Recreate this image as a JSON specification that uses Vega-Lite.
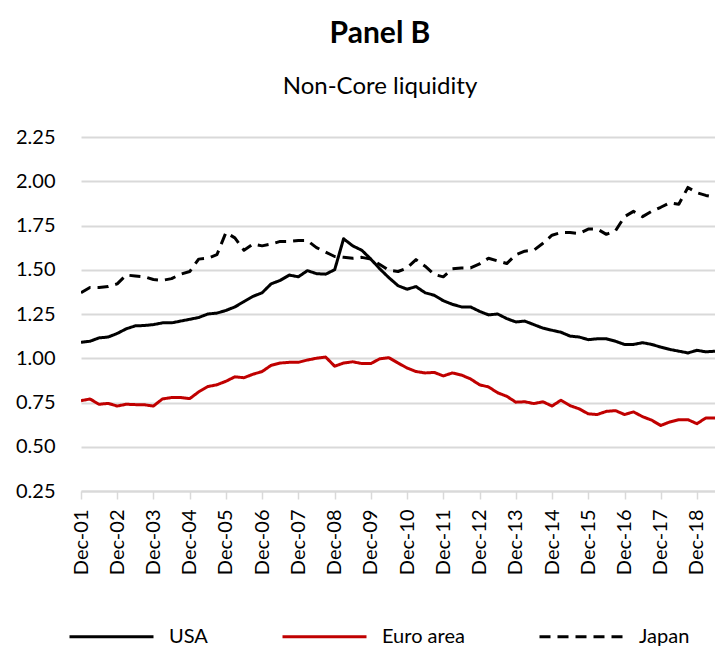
{
  "$schema": "https://vega.github.io/schema/vega-lite/v6.json",
  "autosize": {"type": "none"},
  "width": 634,
  "height": 354,
  "padding": {"left": 81, "top": 137, "right": 0, "bottom": 158},
  "background": "white",
  "config": {"view": {"stroke": null}, "font": "Lato"},
  "title": {
    "text": "Panel B",
    "subtitle": "Non-Core liquidity",
    "font": "Lato",
    "fontSize": 30,
    "fontWeight": "bold",
    "color": "#000000",
    "subtitleFont": "Lato",
    "subtitleFontSize": 24,
    "subtitleColor": "#000000",
    "subtitlePadding": 21,
    "anchor": "middle",
    "frame": "group",
    "baseline": "alphabetic",
    "dx": -18,
    "offset": 4
  },
  "data": {
    "values": [
      {"date": "2001-12-01", "series": "USA", "value": 1.09},
      {"date": "2002-03-01", "series": "USA", "value": 1.096},
      {"date": "2002-06-01", "series": "USA", "value": 1.115},
      {"date": "2002-09-01", "series": "USA", "value": 1.12},
      {"date": "2002-12-01", "series": "USA", "value": 1.14},
      {"date": "2003-03-01", "series": "USA", "value": 1.166},
      {"date": "2003-06-01", "series": "USA", "value": 1.183},
      {"date": "2003-09-01", "series": "USA", "value": 1.185},
      {"date": "2003-12-01", "series": "USA", "value": 1.19},
      {"date": "2004-03-01", "series": "USA", "value": 1.2},
      {"date": "2004-06-01", "series": "USA", "value": 1.2},
      {"date": "2004-09-01", "series": "USA", "value": 1.21},
      {"date": "2004-12-01", "series": "USA", "value": 1.22},
      {"date": "2005-03-01", "series": "USA", "value": 1.23},
      {"date": "2005-06-01", "series": "USA", "value": 1.25},
      {"date": "2005-09-01", "series": "USA", "value": 1.255},
      {"date": "2005-12-01", "series": "USA", "value": 1.27},
      {"date": "2006-03-01", "series": "USA", "value": 1.29},
      {"date": "2006-06-01", "series": "USA", "value": 1.32},
      {"date": "2006-09-01", "series": "USA", "value": 1.35},
      {"date": "2006-12-01", "series": "USA", "value": 1.37},
      {"date": "2007-03-01", "series": "USA", "value": 1.42},
      {"date": "2007-06-01", "series": "USA", "value": 1.44},
      {"date": "2007-09-01", "series": "USA", "value": 1.47},
      {"date": "2007-12-01", "series": "USA", "value": 1.46},
      {"date": "2008-03-01", "series": "USA", "value": 1.495},
      {"date": "2008-06-01", "series": "USA", "value": 1.478},
      {"date": "2008-09-01", "series": "USA", "value": 1.475},
      {"date": "2008-12-01", "series": "USA", "value": 1.5},
      {"date": "2009-03-01", "series": "USA", "value": 1.675},
      {"date": "2009-06-01", "series": "USA", "value": 1.635},
      {"date": "2009-09-01", "series": "USA", "value": 1.61},
      {"date": "2009-12-01", "series": "USA", "value": 1.56},
      {"date": "2010-03-01", "series": "USA", "value": 1.505},
      {"date": "2010-06-01", "series": "USA", "value": 1.455},
      {"date": "2010-09-01", "series": "USA", "value": 1.41},
      {"date": "2010-12-01", "series": "USA", "value": 1.39},
      {"date": "2011-03-01", "series": "USA", "value": 1.405},
      {"date": "2011-06-01", "series": "USA", "value": 1.37},
      {"date": "2011-09-01", "series": "USA", "value": 1.356},
      {"date": "2011-12-01", "series": "USA", "value": 1.325},
      {"date": "2012-03-01", "series": "USA", "value": 1.305},
      {"date": "2012-06-01", "series": "USA", "value": 1.29},
      {"date": "2012-09-01", "series": "USA", "value": 1.29},
      {"date": "2012-12-01", "series": "USA", "value": 1.265},
      {"date": "2013-03-01", "series": "USA", "value": 1.245},
      {"date": "2013-06-01", "series": "USA", "value": 1.25},
      {"date": "2013-09-01", "series": "USA", "value": 1.224},
      {"date": "2013-12-01", "series": "USA", "value": 1.205},
      {"date": "2014-03-01", "series": "USA", "value": 1.21},
      {"date": "2014-06-01", "series": "USA", "value": 1.19},
      {"date": "2014-09-01", "series": "USA", "value": 1.17},
      {"date": "2014-12-01", "series": "USA", "value": 1.158},
      {"date": "2015-03-01", "series": "USA", "value": 1.147},
      {"date": "2015-06-01", "series": "USA", "value": 1.125},
      {"date": "2015-09-01", "series": "USA", "value": 1.12},
      {"date": "2015-12-01", "series": "USA", "value": 1.105},
      {"date": "2016-03-01", "series": "USA", "value": 1.11},
      {"date": "2016-06-01", "series": "USA", "value": 1.11},
      {"date": "2016-09-01", "series": "USA", "value": 1.096},
      {"date": "2016-12-01", "series": "USA", "value": 1.078},
      {"date": "2017-03-01", "series": "USA", "value": 1.078},
      {"date": "2017-06-01", "series": "USA", "value": 1.088},
      {"date": "2017-09-01", "series": "USA", "value": 1.078},
      {"date": "2017-12-01", "series": "USA", "value": 1.063},
      {"date": "2018-03-01", "series": "USA", "value": 1.05},
      {"date": "2018-06-01", "series": "USA", "value": 1.04},
      {"date": "2018-09-01", "series": "USA", "value": 1.03},
      {"date": "2018-12-01", "series": "USA", "value": 1.045},
      {"date": "2019-03-01", "series": "USA", "value": 1.036},
      {"date": "2019-06-01", "series": "USA", "value": 1.04},

      {"date": "2001-12-01", "series": "Euro area", "value": 0.76},
      {"date": "2002-03-01", "series": "Euro area", "value": 0.77},
      {"date": "2002-06-01", "series": "Euro area", "value": 0.74},
      {"date": "2002-09-01", "series": "Euro area", "value": 0.745},
      {"date": "2002-12-01", "series": "Euro area", "value": 0.73},
      {"date": "2003-03-01", "series": "Euro area", "value": 0.74},
      {"date": "2003-06-01", "series": "Euro area", "value": 0.738},
      {"date": "2003-09-01", "series": "Euro area", "value": 0.737},
      {"date": "2003-12-01", "series": "Euro area", "value": 0.73},
      {"date": "2004-03-01", "series": "Euro area", "value": 0.77},
      {"date": "2004-06-01", "series": "Euro area", "value": 0.778},
      {"date": "2004-09-01", "series": "Euro area", "value": 0.778},
      {"date": "2004-12-01", "series": "Euro area", "value": 0.772},
      {"date": "2005-03-01", "series": "Euro area", "value": 0.81},
      {"date": "2005-06-01", "series": "Euro area", "value": 0.84},
      {"date": "2005-09-01", "series": "Euro area", "value": 0.85},
      {"date": "2005-12-01", "series": "Euro area", "value": 0.87},
      {"date": "2006-03-01", "series": "Euro area", "value": 0.895},
      {"date": "2006-06-01", "series": "Euro area", "value": 0.89},
      {"date": "2006-09-01", "series": "Euro area", "value": 0.91},
      {"date": "2006-12-01", "series": "Euro area", "value": 0.925},
      {"date": "2007-03-01", "series": "Euro area", "value": 0.96},
      {"date": "2007-06-01", "series": "Euro area", "value": 0.973},
      {"date": "2007-09-01", "series": "Euro area", "value": 0.977},
      {"date": "2007-12-01", "series": "Euro area", "value": 0.977},
      {"date": "2008-03-01", "series": "Euro area", "value": 0.99},
      {"date": "2008-06-01", "series": "Euro area", "value": 1.0},
      {"date": "2008-09-01", "series": "Euro area", "value": 1.007},
      {"date": "2008-12-01", "series": "Euro area", "value": 0.955},
      {"date": "2009-03-01", "series": "Euro area", "value": 0.973},
      {"date": "2009-06-01", "series": "Euro area", "value": 0.98},
      {"date": "2009-09-01", "series": "Euro area", "value": 0.97},
      {"date": "2009-12-01", "series": "Euro area", "value": 0.97},
      {"date": "2010-03-01", "series": "Euro area", "value": 0.997},
      {"date": "2010-06-01", "series": "Euro area", "value": 1.003},
      {"date": "2010-09-01", "series": "Euro area", "value": 0.973},
      {"date": "2010-12-01", "series": "Euro area", "value": 0.945},
      {"date": "2011-03-01", "series": "Euro area", "value": 0.925},
      {"date": "2011-06-01", "series": "Euro area", "value": 0.917},
      {"date": "2011-09-01", "series": "Euro area", "value": 0.92},
      {"date": "2011-12-01", "series": "Euro area", "value": 0.9},
      {"date": "2012-03-01", "series": "Euro area", "value": 0.917},
      {"date": "2012-06-01", "series": "Euro area", "value": 0.905},
      {"date": "2012-09-01", "series": "Euro area", "value": 0.883},
      {"date": "2012-12-01", "series": "Euro area", "value": 0.85},
      {"date": "2013-03-01", "series": "Euro area", "value": 0.838},
      {"date": "2013-06-01", "series": "Euro area", "value": 0.805},
      {"date": "2013-09-01", "series": "Euro area", "value": 0.785},
      {"date": "2013-12-01", "series": "Euro area", "value": 0.752},
      {"date": "2014-03-01", "series": "Euro area", "value": 0.754},
      {"date": "2014-06-01", "series": "Euro area", "value": 0.744},
      {"date": "2014-09-01", "series": "Euro area", "value": 0.754},
      {"date": "2014-12-01", "series": "Euro area", "value": 0.73},
      {"date": "2015-03-01", "series": "Euro area", "value": 0.763},
      {"date": "2015-06-01", "series": "Euro area", "value": 0.732},
      {"date": "2015-09-01", "series": "Euro area", "value": 0.714},
      {"date": "2015-12-01", "series": "Euro area", "value": 0.686},
      {"date": "2016-03-01", "series": "Euro area", "value": 0.682},
      {"date": "2016-06-01", "series": "Euro area", "value": 0.7},
      {"date": "2016-09-01", "series": "Euro area", "value": 0.704},
      {"date": "2016-12-01", "series": "Euro area", "value": 0.682},
      {"date": "2017-03-01", "series": "Euro area", "value": 0.697},
      {"date": "2017-06-01", "series": "Euro area", "value": 0.67},
      {"date": "2017-09-01", "series": "Euro area", "value": 0.65},
      {"date": "2017-12-01", "series": "Euro area", "value": 0.62},
      {"date": "2018-03-01", "series": "Euro area", "value": 0.64},
      {"date": "2018-06-01", "series": "Euro area", "value": 0.653},
      {"date": "2018-09-01", "series": "Euro area", "value": 0.653},
      {"date": "2018-12-01", "series": "Euro area", "value": 0.63},
      {"date": "2019-03-01", "series": "Euro area", "value": 0.663},
      {"date": "2019-06-01", "series": "Euro area", "value": 0.663},

      {"date": "2001-12-01", "series": "Japan", "value": 1.37},
      {"date": "2002-03-01", "series": "Japan", "value": 1.4},
      {"date": "2002-06-01", "series": "Japan", "value": 1.4},
      {"date": "2002-09-01", "series": "Japan", "value": 1.405},
      {"date": "2002-12-01", "series": "Japan", "value": 1.42},
      {"date": "2003-03-01", "series": "Japan", "value": 1.47},
      {"date": "2003-06-01", "series": "Japan", "value": 1.465},
      {"date": "2003-09-01", "series": "Japan", "value": 1.46},
      {"date": "2003-12-01", "series": "Japan", "value": 1.445},
      {"date": "2004-03-01", "series": "Japan", "value": 1.44},
      {"date": "2004-06-01", "series": "Japan", "value": 1.45},
      {"date": "2004-09-01", "series": "Japan", "value": 1.475},
      {"date": "2004-12-01", "series": "Japan", "value": 1.49},
      {"date": "2005-03-01", "series": "Japan", "value": 1.56},
      {"date": "2005-06-01", "series": "Japan", "value": 1.565},
      {"date": "2005-09-01", "series": "Japan", "value": 1.585},
      {"date": "2005-12-01", "series": "Japan", "value": 1.71},
      {"date": "2006-03-01", "series": "Japan", "value": 1.68},
      {"date": "2006-06-01", "series": "Japan", "value": 1.61},
      {"date": "2006-09-01", "series": "Japan", "value": 1.645},
      {"date": "2006-12-01", "series": "Japan", "value": 1.635},
      {"date": "2007-03-01", "series": "Japan", "value": 1.645},
      {"date": "2007-06-01", "series": "Japan", "value": 1.66},
      {"date": "2007-09-01", "series": "Japan", "value": 1.66},
      {"date": "2007-12-01", "series": "Japan", "value": 1.665},
      {"date": "2008-03-01", "series": "Japan", "value": 1.665},
      {"date": "2008-06-01", "series": "Japan", "value": 1.625},
      {"date": "2008-09-01", "series": "Japan", "value": 1.6},
      {"date": "2008-12-01", "series": "Japan", "value": 1.575},
      {"date": "2009-03-01", "series": "Japan", "value": 1.57},
      {"date": "2009-06-01", "series": "Japan", "value": 1.565},
      {"date": "2009-09-01", "series": "Japan", "value": 1.57},
      {"date": "2009-12-01", "series": "Japan", "value": 1.56},
      {"date": "2010-03-01", "series": "Japan", "value": 1.53},
      {"date": "2010-06-01", "series": "Japan", "value": 1.497},
      {"date": "2010-09-01", "series": "Japan", "value": 1.49},
      {"date": "2010-12-01", "series": "Japan", "value": 1.51},
      {"date": "2011-03-01", "series": "Japan", "value": 1.557},
      {"date": "2011-06-01", "series": "Japan", "value": 1.52},
      {"date": "2011-09-01", "series": "Japan", "value": 1.473},
      {"date": "2011-12-01", "series": "Japan", "value": 1.46},
      {"date": "2012-03-01", "series": "Japan", "value": 1.505},
      {"date": "2012-06-01", "series": "Japan", "value": 1.51},
      {"date": "2012-09-01", "series": "Japan", "value": 1.51},
      {"date": "2012-12-01", "series": "Japan", "value": 1.533},
      {"date": "2013-03-01", "series": "Japan", "value": 1.565},
      {"date": "2013-06-01", "series": "Japan", "value": 1.55},
      {"date": "2013-09-01", "series": "Japan", "value": 1.535},
      {"date": "2013-12-01", "series": "Japan", "value": 1.585},
      {"date": "2014-03-01", "series": "Japan", "value": 1.605},
      {"date": "2014-06-01", "series": "Japan", "value": 1.61},
      {"date": "2014-09-01", "series": "Japan", "value": 1.65},
      {"date": "2014-12-01", "series": "Japan", "value": 1.695},
      {"date": "2015-03-01", "series": "Japan", "value": 1.71},
      {"date": "2015-06-01", "series": "Japan", "value": 1.71},
      {"date": "2015-09-01", "series": "Japan", "value": 1.705},
      {"date": "2015-12-01", "series": "Japan", "value": 1.73},
      {"date": "2016-03-01", "series": "Japan", "value": 1.73},
      {"date": "2016-06-01", "series": "Japan", "value": 1.7},
      {"date": "2016-09-01", "series": "Japan", "value": 1.72},
      {"date": "2016-12-01", "series": "Japan", "value": 1.8},
      {"date": "2017-03-01", "series": "Japan", "value": 1.83},
      {"date": "2017-06-01", "series": "Japan", "value": 1.8},
      {"date": "2017-09-01", "series": "Japan", "value": 1.83},
      {"date": "2017-12-01", "series": "Japan", "value": 1.853},
      {"date": "2018-03-01", "series": "Japan", "value": 1.878},
      {"date": "2018-06-01", "series": "Japan", "value": 1.87},
      {"date": "2018-09-01", "series": "Japan", "value": 1.965},
      {"date": "2018-12-01", "series": "Japan", "value": 1.935},
      {"date": "2019-03-01", "series": "Japan", "value": 1.92},
      {"date": "2019-06-01", "series": "Japan", "value": 1.91}
    ]
  },
  "mark": {"type": "line", "strokeWidth": 3, "strokeJoin": "round", "clip": true},
  "encoding": {
    "x": {
      "field": "date",
      "type": "temporal",
      "scale": {
        "type": "utc",
        "domain": [
          {"year": 2001, "month": 12, "date": 1, "utc": true},
          {"year": 2019, "month": 6, "date": 1, "utc": true}
        ]
      },
      "axis": {
        "title": null,
        "values": [
          {"year": 2001, "month": 12, "date": 1, "utc": true},
          {"year": 2002, "month": 12, "date": 1, "utc": true},
          {"year": 2003, "month": 12, "date": 1, "utc": true},
          {"year": 2004, "month": 12, "date": 1, "utc": true},
          {"year": 2005, "month": 12, "date": 1, "utc": true},
          {"year": 2006, "month": 12, "date": 1, "utc": true},
          {"year": 2007, "month": 12, "date": 1, "utc": true},
          {"year": 2008, "month": 12, "date": 1, "utc": true},
          {"year": 2009, "month": 12, "date": 1, "utc": true},
          {"year": 2010, "month": 12, "date": 1, "utc": true},
          {"year": 2011, "month": 12, "date": 1, "utc": true},
          {"year": 2012, "month": 12, "date": 1, "utc": true},
          {"year": 2013, "month": 12, "date": 1, "utc": true},
          {"year": 2014, "month": 12, "date": 1, "utc": true},
          {"year": 2015, "month": 12, "date": 1, "utc": true},
          {"year": 2016, "month": 12, "date": 1, "utc": true},
          {"year": 2017, "month": 12, "date": 1, "utc": true},
          {"year": 2018, "month": 12, "date": 1, "utc": true}
        ],
        "labelExpr": "utcFormat(datum.value, '%b-%y')",
        "labelAngle": 270,
        "labelAlign": "right",
        "labelBaseline": "middle",
        "labelFont": "Lato",
        "labelFontSize": 20,
        "labelColor": "#000000",
        "labelPadding": 10,
        "labelOverlap": false,
        "labelFlush": false,
        "grid": false,
        "domain": true,
        "domainColor": "#d9d9d9",
        "domainWidth": 2,
        "ticks": true,
        "tickColor": "#d9d9d9",
        "tickWidth": 1.5,
        "tickSize": 8
      }
    },
    "y": {
      "field": "value",
      "type": "quantitative",
      "scale": {"domain": [0.25, 2.25], "nice": false, "zero": false},
      "axis": {
        "title": null,
        "values": [0.25, 0.5, 0.75, 1.0, 1.25, 1.5, 1.75, 2.0, 2.25],
        "format": ".2f",
        "labelFont": "Lato",
        "labelFontSize": 20,
        "labelColor": "#000000",
        "labelPadding": 26,
        "domain": false,
        "ticks": false,
        "grid": true,
        "gridColor": "#d9d9d9",
        "gridWidth": 2
      }
    },
    "color": {
      "field": "series",
      "type": "nominal",
      "scale": {"domain": ["USA", "Euro area", "Japan"], "range": ["#000000", "#c00000", "#000000"]},
      "legend": {
        "title": null,
        "orient": "none",
        "direction": "horizontal",
        "legendX": -13,
        "legendY": 456,
        "symbolType": "stroke",
        "symbolSize": 7056,
        "symbolStrokeWidth": 3,
        "labelFont": "Lato",
        "labelFontSize": 20,
        "labelColor": "#000000",
        "labelOffset": 14,
        "columnPadding": 68,
        "padding": 0
      }
    },
    "strokeDash": {
      "field": "series",
      "type": "nominal",
      "scale": {"domain": ["USA", "Euro area", "Japan"], "range": [[1, 0], [1, 0], [11, 7]]},
      "legend": {
        "title": null,
        "orient": "none",
        "direction": "horizontal",
        "legendX": -13,
        "legendY": 456,
        "symbolType": "stroke",
        "symbolSize": 7056,
        "symbolStrokeWidth": 3,
        "labelFont": "Lato",
        "labelFontSize": 20,
        "labelColor": "#000000",
        "labelOffset": 14,
        "columnPadding": 68,
        "padding": 0
      }
    }
  }
}
